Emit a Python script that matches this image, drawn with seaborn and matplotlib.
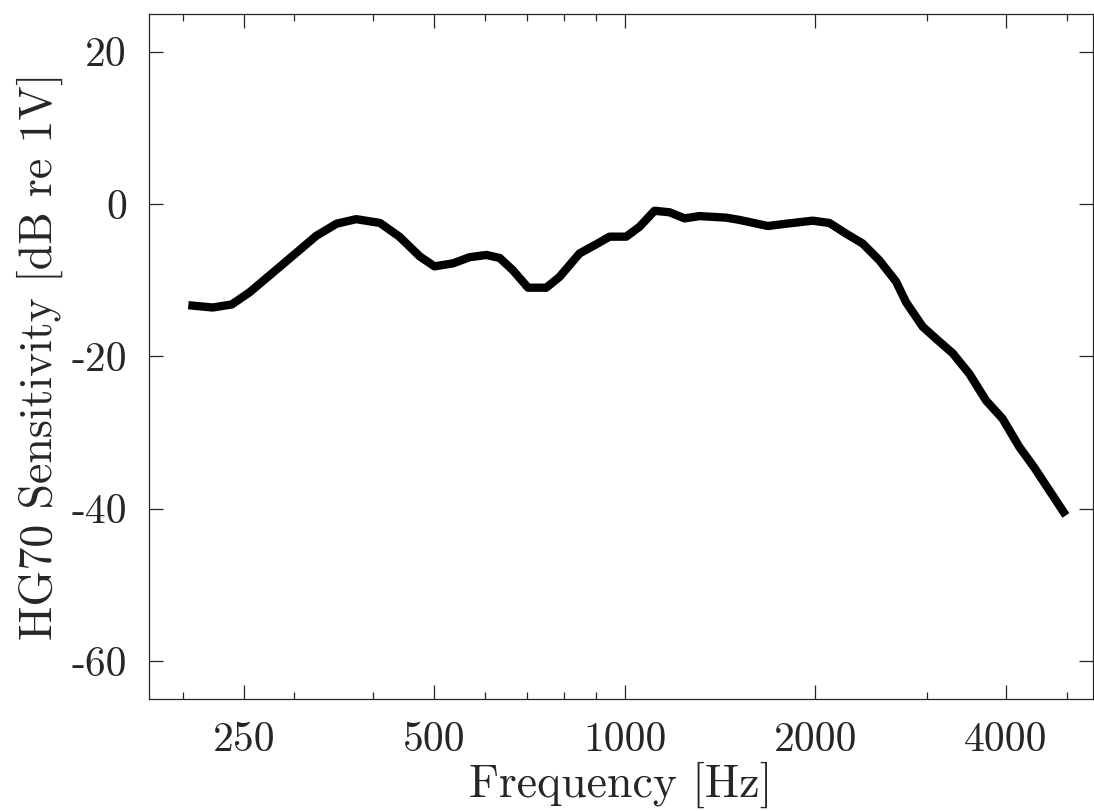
import numpy as np
import pandas as pd
import matplotlib
matplotlib.use('Agg')
import matplotlib.pyplot as plt
import seaborn as sns
from matplotlib.ticker import FixedLocator, FixedFormatter, NullFormatter

# Frequenzgang HG70
freq_hz = [204, 223, 239, 255, 288, 325, 350, 376, 410, 440, 474, 500, 535, 568,
           604, 634, 665, 703, 751, 788, 848, 901, 946, 1005, 1055, 1114, 1177,
           1243, 1312, 1446, 1518, 1683, 1799, 1982, 2106, 2238, 2377, 2526, 2685,
           2784, 2957, 3106, 3299, 3506, 3725, 3957, 4205, 4440, 4690, 4983]
sens_db = [-13.3, -13.6, -13.2, -11.6, -7.9, -4.2, -2.6, -2.0, -2.5, -4.3, -6.9,
           -8.2, -7.8, -7.0, -6.7, -7.1, -8.7, -11.0, -11.0, -9.6, -6.5, -5.3,
           -4.3, -4.3, -3.0, -0.9, -1.1, -1.9, -1.6, -1.8, -2.1, -2.9, -2.6, -2.2,
           -2.5, -3.9, -5.2, -7.4, -10.2, -12.9, -16.1, -17.7, -19.6, -22.3,
           -25.8, -28.2, -31.9, -34.6, -37.6, -40.9]

x_major = [250, 500, 1000, 2000, 4000]
x_minor = [200, 300, 400, 600, 700, 800, 900, 3000, 5000]
y_ticks = [-60, -40, -20, 0, 20]
y_labels = ['-60', '-40', '-20', '0', '20']

df = pd.DataFrame({'f': freq_hz, 's': sens_db})

sns.set_style('ticks')
plt.rcParams['font.family'] = ['cmr10', 'DejaVu Serif']
plt.rcParams['axes.formatter.use_mathtext'] = True

fig = plt.figure(figsize=(10.94, 8.11), dpi=100)
ax = fig.add_axes([149 / 1094, 1 - 699 / 811, (1093 - 149) / 1094, (699 - 13.5) / 811])

sns.lineplot(data=df, x='f', y='s', color='black', linewidth=6, ax=ax)
for ln in ax.lines:
    ln.set_solid_joinstyle('round')
    ln.set_solid_capstyle('butt')

ax.set_xscale('log', base=2)
ax.set_xlim(176.8, 5500)
ax.set_ylim(-65, 25)

ax.xaxis.set_major_locator(FixedLocator(x_major))
ax.xaxis.set_major_formatter(FixedFormatter([str(v) for v in x_major]))
ax.xaxis.set_minor_locator(FixedLocator(x_minor))
ax.xaxis.set_minor_formatter(NullFormatter())
ax.yaxis.set_major_locator(FixedLocator(y_ticks))
ax.yaxis.set_major_formatter(FixedFormatter(y_labels))
ax.yaxis.set_minor_locator(FixedLocator([]))

for s in ax.spines.values():
    s.set_visible(True)
    s.set_linewidth(0.9)
    s.set_color('#262626')

ax.tick_params(which='both', direction='in', top=True, right=True,
               color='#262626', width=0.9, labelsize=30, labelcolor='#262626')
ax.tick_params(which='major', length=10, pad=16)
ax.tick_params(which='minor', length=5)

ax.set_xlabel('Frequency [Hz]', fontsize=33, color='#262626', labelpad=2)
ax.set_ylabel('HG70 Sensitivity [dB re 1V]', fontsize=33, color='#262626', labelpad=6)

fig.savefig('out.png', dpi=100)
